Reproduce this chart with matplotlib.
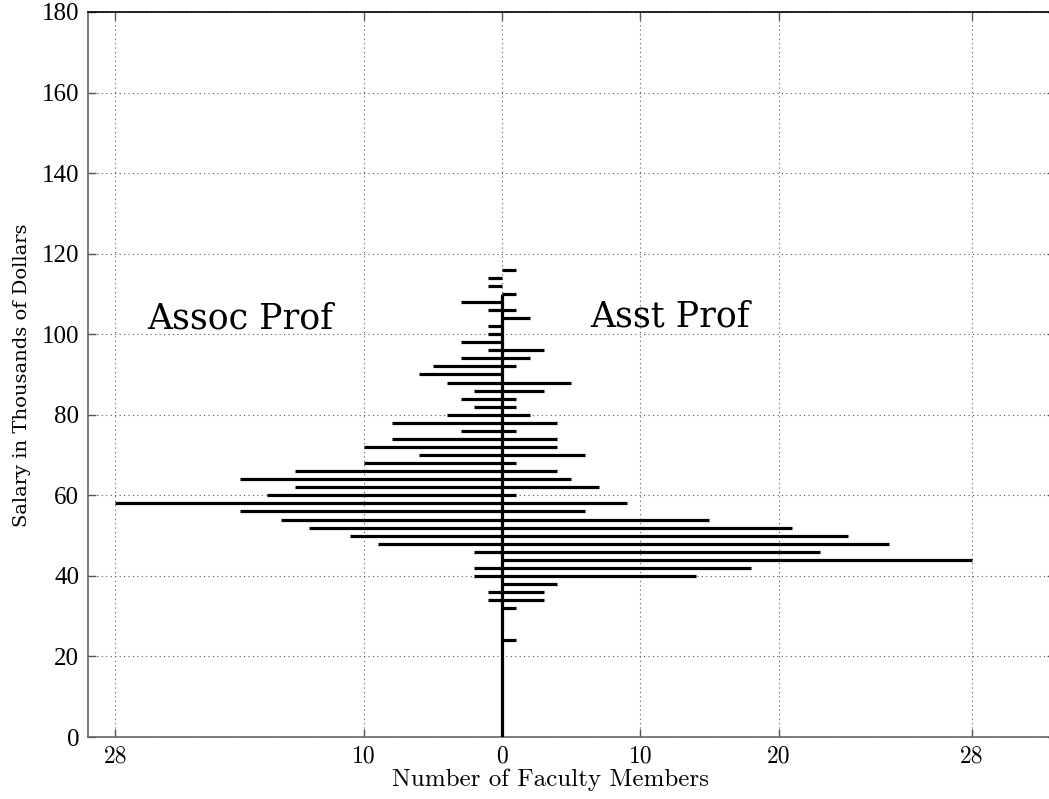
import matplotlib
matplotlib.use("Agg")
import matplotlib.pyplot as plt
import numpy as np

# ---- data ----
salary = list(range(24, 118, 2))  # bin centres, thousands of dollars
assoc = [0, 0, 0, 0, 0, 1, 1, 0, 2, 2, 0, 2, 9, 11, 14, 16, 19, 28, 17, 15,
         19, 15, 10, 6, 10, 8, 3, 8, 4, 2, 3, 2, 4, 6, 5, 3, 1, 3, 1, 1,
         0, 1, 3, 0, 1, 1, 0]
asst = [1, 0, 0, 0, 1, 3, 3, 4, 14, 18, 34, 23, 28, 25, 21, 15, 6, 9, 1, 7,
        5, 4, 1, 6, 4, 4, 1, 4, 2, 1, 1, 3, 5, 0, 1, 2, 3, 0, 0, 0,
        2, 1, 0, 1, 0, 0, 1]
axis_line_top = 110

xtick_pos = [-28, -10, 0, 10, 20, 34]
xtick_labels = ["28", "10", "0", "10", "20", "28"]
ytick_pos = list(range(0, 181, 20))

# ---- figure ----
fig = plt.figure(figsize=(10.49, 7.99), dpi=100)
ax = fig.add_axes([87.5 / 1049, 62 / 799, (1055 - 87.5) / 1049, (737 - 12) / 799])

s = np.array(salary)
a = np.array(assoc)
b = np.array(asst)
mask = (a > 0) | (b > 0)
ax.hlines(s[mask], -a[mask], b[mask], colors="black", linewidth=2.3, zorder=3)
ax.vlines(0, 0, axis_line_top, colors="black", linewidth=2.3, zorder=3)

ax.set_xlim(-30, 40)
ax.set_ylim(0, 180)
ax.set_xticks(xtick_pos)
ax.set_xticklabels(xtick_labels)
ax.set_yticks(ytick_pos)

ax.grid(True, linestyle=(0, (1, 3)), color="#555555", linewidth=0.8)
ax.set_axisbelow(True)
ax.tick_params(direction="in", length=6, width=1, top=True, right=True,
               color="#555555")

for lab in ax.get_yticklabels():
    lab.set_fontfamily("Liberation Serif")
    lab.set_fontsize(18)
for lab in ax.get_xticklabels():
    lab.set_fontfamily("cmr10")
    lab.set_fontsize(17)
ax.tick_params(axis="y", pad=6)
ax.tick_params(axis="x", pad=6)

for side in ["left", "bottom", "right"]:
    ax.spines[side].set_color("#666666")
    ax.spines[side].set_linewidth(1.2)
ax.spines["top"].set_color("black")
ax.spines["top"].set_linewidth(1.2)

fig.text(551 / 1049, 1 - 780 / 799, "Number of Faculty Members",
         family="cmr10", fontsize=18, ha="center", va="center")
fig.text(22 / 1049, 1 - 375 / 799, "Salary in Thousands of Dollars",
         family="DejaVu Serif", fontsize=14, rotation=90,
         ha="center", va="center")

ax.text(-25.7, 101.5, "Assoc Prof", family="DejaVu Serif", fontsize=25,
        ha="left", va="baseline")
ax.text(6.4, 101.8, "Asst Prof", family="DejaVu Serif", fontsize=25,
        ha="left", va="baseline")

fig.savefig("out.png", dpi=100)
